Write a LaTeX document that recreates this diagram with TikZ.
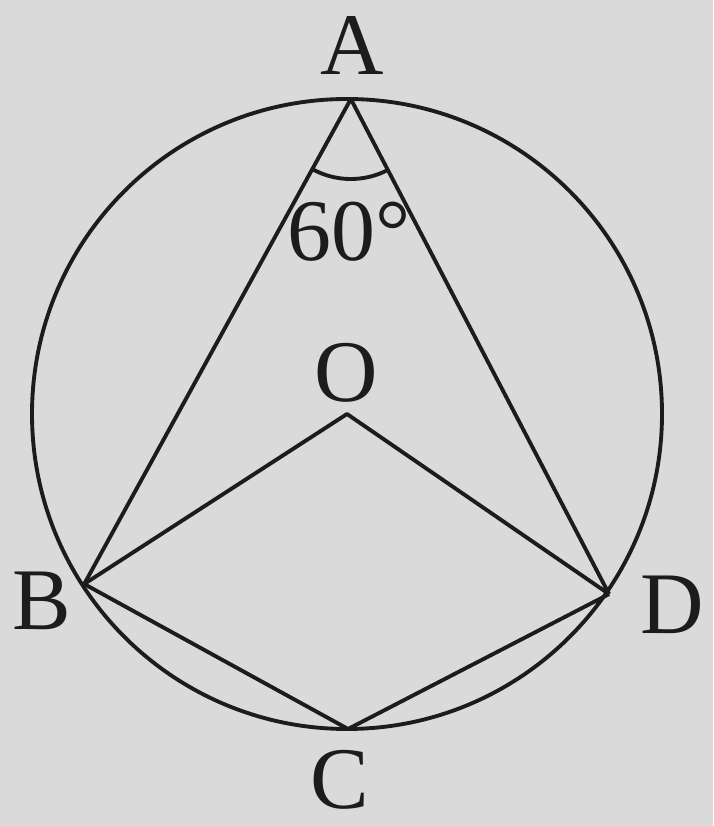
\documentclass[tikz,border=0pt]{standalone}
\usepackage{fontspec}
\setmainfont{Liberation Serif}
\usepackage{tikz}
\usetikzlibrary{arrows.meta,positioning,calc}
\definecolor{paper}{RGB}{218,218,218}
\definecolor{ink}{RGB}{28,28,28}

\begin{document}
\begin{tikzpicture}[>=Latex,
  every node/.style={font=\fontsize{25}{28}\selectfont, text=ink},
  geo/.style={draw=ink, line width=1.1pt, line join=round}]
\fill[paper] (0,0) rectangle (7.13,8.26);
\useasboundingbox (0,0) rectangle (7.13,8.26);

\coordinate (O) at (3.47,4.12);
\coordinate (A) at ($(O)+(89.3:3.15)$);
\coordinate (B) at ($(O)+(212.9:3.13)$);
\coordinate (C) at ($(O)+(270.2:3.15)$);
\coordinate (D) at ($(O)+(325.5:3.18)$);

\draw[geo] (O) circle (3.15);

\draw[geo] (B) -- (A) -- (D);
\draw[geo] (B) -- (O) -- (D);
\draw[geo] (B) -- (C) -- (D);

\draw[geo] ($(A)+(241.3:0.8)$) arc (241.3:297.7:0.8);

\node (lA) at (3.52,7.80) {A};
\node (l60) at (3.49,5.94) {60°};
\node (lO) at (3.46,4.53) {O};
\node (lB) at (0.42,2.25) {B};
\node (lD) at (6.72,2.21) {D};
\node (lC) at (3.40,0.46) {C};
\end{tikzpicture}
\end{document}
